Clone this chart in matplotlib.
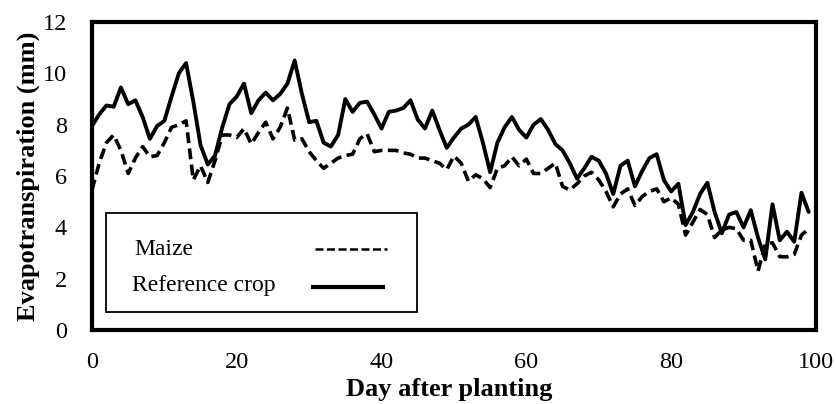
import numpy as np
import matplotlib.pyplot as plt
from matplotlib.patches import Rectangle

# =========================
# Data
# =========================

days = np.arange(0, 100)

reference_crop = [
    7.95, 8.4, 8.75, 8.7, 9.45, 8.8, 8.95, 8.3, 7.45, 7.95,
    8.15, 9.1, 10.0, 10.4, 8.9, 7.2, 6.45, 6.8, 7.9, 8.8,
    9.1, 9.6, 8.45, 8.95, 9.25, 8.95, 9.2, 9.6, 10.5, 9.2,
    8.1, 8.15, 7.3, 7.15, 7.6, 9.0, 8.5, 8.85, 8.9, 8.4,
    7.85, 8.5, 8.55, 8.65, 8.95, 8.2, 7.85, 8.55, 7.8, 7.1,
    7.5, 7.85, 8.0, 8.3, 7.3, 6.15, 7.3, 7.9, 8.3, 7.8,
    7.5, 8.0, 8.22, 7.8, 7.25, 7.0, 6.5, 5.9, 6.3, 6.75,
    6.6, 6.1, 5.3, 6.4, 6.6, 5.6, 6.2, 6.7, 6.85, 5.84,
    5.4, 5.7, 4.09, 4.6, 5.3, 5.74, 4.6, 3.77, 4.5, 4.6,
    4.0, 4.67, 3.6, 2.75, 4.9, 3.5, 3.83, 3.44, 5.35, 4.6,
]

maize = [
    5.45, 6.5, 7.3, 7.6, 7.0, 6.1, 6.7, 7.15, 6.75, 6.8,
    7.3, 7.9, 8.0, 8.15, 5.85, 6.4, 5.75, 6.6, 7.6, 7.6,
    7.5, 7.85, 7.25, 7.7, 8.1, 7.45, 7.9, 8.65, 7.4, 7.45,
    6.95, 6.6, 6.3, 6.5, 6.7, 6.8, 6.85, 7.45, 7.65, 6.95,
    7.0, 7.0, 7.0, 6.9, 6.85, 6.7, 6.7, 6.6, 6.5, 6.25,
    6.78, 6.5, 5.8, 6.05, 5.9, 5.55, 6.3, 6.4, 6.75, 6.4,
    6.66, 6.1, 6.1, 6.3, 6.5, 5.6, 5.45, 5.7, 6.0, 6.15,
    5.85, 5.4, 4.8, 5.3, 5.5, 4.85, 5.2, 5.4, 5.5, 5.0,
    5.15, 4.9, 3.7, 4.2, 4.7, 4.5, 3.6, 3.9, 4.0, 3.95,
    3.5, 3.5, 2.3, 3.35, 3.4, 2.86, 2.85, 2.95, 3.7, 3.95,
]

x_ticks = [0, 20, 40, 60, 80, 100]
y_ticks = [0, 2, 4, 6, 8, 10, 12]

# =========================
# Plot
# =========================

plt.rcParams['font.family'] = ['Liberation Serif', 'DejaVu Serif']
fs = 17.5

fig = plt.figure(figsize=(8.36, 4.04), dpi=100)
ax = fig.add_axes([0.110, 0.183, 0.866, 0.7625])

ax.plot(days, reference_crop, color='black', lw=2.8,
        solid_joinstyle='round', solid_capstyle='round')
ax.plot(days, maize, color='black', lw=2.6, linestyle=(0, (3.0, 1.5)),
        dash_joinstyle='round')

ax.set_xlim(0, 100)
ax.set_ylim(0, 12)
ax.set_xticks(x_ticks)
ax.set_yticks(y_ticks)
ax.tick_params(length=0, labelsize=fs)
ax.tick_params(axis='x', pad=16)
ax.tick_params(axis='y', pad=18)

for s in ax.spines.values():
    s.set_linewidth(3)

ax.set_xlabel('Day after planting', fontsize=19, fontweight='bold')
ax.set_ylabel('Evapotranspiration (mm)', fontsize=19, fontweight='bold')
ax.xaxis.set_label_coords(0.494, -0.155)
ax.yaxis.set_label_coords(-0.072, 0.5)

# hand-made legend box like the original
ax.add_patch(Rectangle((0.0193, 0.058), 0.43, 0.322, transform=ax.transAxes,
                       fill=False, edgecolor='black', lw=1.3, zorder=5))
ax.text(0.059, 0.262, 'Maize', transform=ax.transAxes, fontsize=fs - 0.5,
        va='center', ha='left')
ax.text(0.055, 0.146, 'Reference crop', transform=ax.transAxes,
        fontsize=fs - 0.5, va='center', ha='left')
ax.plot([0.308, 0.407], [0.263, 0.263], transform=ax.transAxes,
        color='black', lw=1.8, linestyle=(0, (3.2, 1.4)))
ax.plot([0.305, 0.402], [0.14, 0.14], transform=ax.transAxes,
        color='black', lw=3)

plt.savefig('out.png', dpi=100)
plt.close()
